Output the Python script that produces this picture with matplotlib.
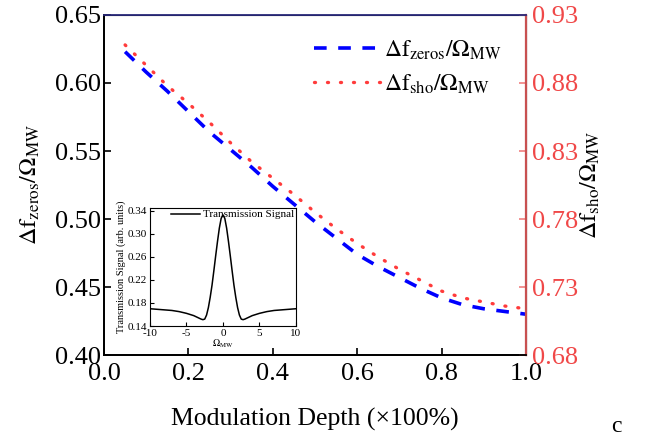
import numpy as np
import matplotlib
matplotlib.use("Agg")
import matplotlib.pyplot as plt

plt.rcParams['font.family'] = ['Liberation Serif', 'DejaVu Serif']
plt.rcParams['mathtext.fontset'] = 'stix'
plt.rcParams['axes.unicode_minus'] = False

# main curves
depth = [0.05, 0.10, 0.15, 0.20, 0.25, 0.30, 0.35, 0.40, 0.45, 0.50,
         0.55, 0.60, 0.65, 0.70, 0.75, 0.80, 0.85, 0.90, 0.95, 1.00]
zeros_ratio = [0.623, 0.608, 0.594, 0.579, 0.564, 0.551, 0.538, 0.524, 0.511, 0.498,
               0.486, 0.474, 0.465, 0.457, 0.449, 0.442, 0.437, 0.434, 0.432, 0.430]
sho_ratio = [0.908, 0.893, 0.878, 0.865, 0.851, 0.836, 0.822, 0.810, 0.798, 0.785,
             0.773, 0.762, 0.752, 0.743, 0.735, 0.727, 0.722, 0.719, 0.716, 0.714]

# inset: transmission signal
omega = [-10, -9, -8, -7, -6, -5, -4, -3.5, -3, -2.75, -2.5, -2.25, -2, -1.75, -1.5,
         -1.25, -1, -0.75, -0.5, -0.25, 0, 0.25, 0.5, 0.75, 1, 1.25, 1.5, 1.75, 2,
         2.25, 2.5, 2.75, 3, 3.5, 4, 5, 6, 7, 8, 9, 10]
signal = [0.170, 0.169, 0.168, 0.167, 0.165, 0.162, 0.158, 0.155, 0.152, 0.151, 0.152,
          0.159, 0.172, 0.190, 0.211, 0.236, 0.262, 0.287, 0.310, 0.327, 0.333,
          0.327, 0.310, 0.287, 0.262, 0.236, 0.211, 0.190, 0.172, 0.159, 0.152,
          0.151, 0.152, 0.155, 0.158, 0.162, 0.165, 0.167, 0.168, 0.169, 0.170]

left_ticks = [0.40, 0.45, 0.50, 0.55, 0.60, 0.65]
right_ticks = [0.68, 0.73, 0.78, 0.83, 0.88, 0.93]
red = '#f04848'

fig = plt.figure(figsize=(6.52, 4.37), dpi=100)
ax = fig.add_axes([0.1595, 0.1876, 0.6472, 0.7781])
ax2 = ax.twinx()

l1, = ax.plot(depth, zeros_ratio, color='#0000ff', lw=2.6, linestyle=(0, (3.5, 3.2)),
              label=r'$\mathrm{\Delta f_{zeros}/\Omega_{MW}}$')
l2, = ax2.plot(depth, sho_ratio, color='#ff3b3b', lw=2.4, linestyle=(0, (0.3, 3.6)),
               dash_capstyle='round', label=r'$\mathrm{\Delta f_{sho}/\Omega_{MW}}$')

ax.set_xlim(0, 1.0)
ax.set_ylim(0.40, 0.65)
ax2.set_ylim(0.68, 0.93)
ax.set_xticks([0.0, 0.2, 0.4, 0.6, 0.8, 1.0])
ax.set_xticklabels(['0.0', '0.2', '0.4', '0.6', '0.8', '1.0'])
ax.set_yticks(left_ticks)
ax.set_yticklabels(['%.2f' % v for v in left_ticks])
ax2.set_yticks(right_ticks)
ax2.set_yticklabels(['%.2f' % v for v in right_ticks])

ax.tick_params(direction='in', labelsize=19, length=5, width=1.2, top=False, pad=2)
ax.tick_params(axis='x', pad=6)
ax2.tick_params(direction='in', labelsize=19, length=5, width=1.2, colors=red,
                labelcolor=red, pad=4)
ax2.tick_params(axis='y', color='#f08080')

for s in ['left', 'bottom']:
    ax.spines[s].set_linewidth(1.3)
ax2.spines['top'].set_color('#2a2a7a')
ax2.spines['top'].set_linewidth(1.3)
ax2.spines['right'].set_color('#c85050')
ax2.spines['right'].set_linewidth(1.6)
ax2.spines['left'].set_linewidth(1.3)
ax2.spines['bottom'].set_linewidth(1.3)

ax.set_xlabel('Modulation Depth (×100%)', fontsize=18.5, labelpad=16)
ax.set_ylabel(r'$\mathrm{\Delta f_{zeros}/\Omega_{MW}}$', fontsize=17.5)
ax2.set_ylabel(r'$\mathrm{\Delta f_{sho}/\Omega_{MW}}$', fontsize=17.5)
ax.yaxis.set_label_coords(-0.147, 0.5)
ax2.yaxis.set_label_coords(1.126, 0.5)

ax.legend([l1, l2], [l1.get_label(), l2.get_label()], loc='upper right', frameon=False,
          fontsize=17, handlelength=2.8, handletextpad=0.2, borderaxespad=0.6,
          labelspacing=0.45)

fig.text(0.938, 0.012, 'c', fontsize=17)

# inset
axin = fig.add_axes([0.230, 0.254, 0.224, 0.270])
axin.plot(omega, signal, color='black', lw=1.1, label='Transmission Signal')
axin.set_xlim(-10, 10)
axin.set_ylim(0.14, 0.345)
axin.set_xticks([-10, -5, 0, 5, 10])
axin.set_yticks([0.14, 0.18, 0.22, 0.26, 0.30, 0.34])
axin.set_yticklabels(['0.14', '0.18', '0.22', '0.26', '0.30', '0.34'])
axin.tick_params(direction='in', labelsize=8, length=3, pad=2)
axin.set_xlabel(r'$\mathrm{\Omega_{MW}}$', fontsize=7, labelpad=0)
axin.set_ylabel('Transmission Signal (arb. units)', fontsize=7.5, labelpad=1)
axin.legend(loc='upper right', frameon=False, fontsize=8, handlelength=2.6,
            handletextpad=0.3, borderaxespad=0.05, borderpad=0.1)

fig.savefig('out.png', dpi=100)
